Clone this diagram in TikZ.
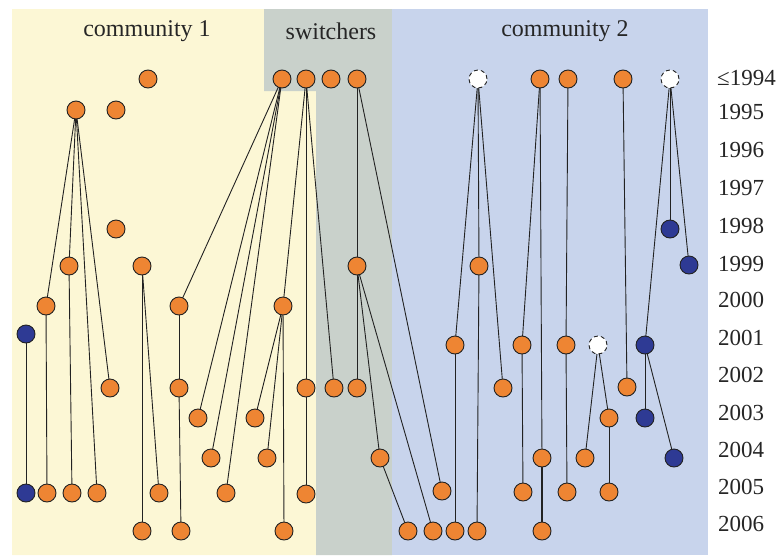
\documentclass[tikz,border=0pt]{standalone}
\usepackage{fontspec}
\setmainfont{Liberation Serif}
\definecolor{orng}{HTML}{EE8533}
\definecolor{dblue}{HTML}{2E3A94}
\definecolor{ybg}{HTML}{FCF7D5}
\definecolor{gbg}{HTML}{C9D1CB}
\definecolor{bbg}{HTML}{C8D4EC}
\definecolor{edge}{HTML}{222222}
\begin{document}
\begin{tikzpicture}[x=1pt,y=-1pt,
  nd/.style={circle,draw=edge,line width=0.9pt,minimum size=18pt,inner sep=0pt},
  orn/.style={nd,fill=orng},
  blu/.style={nd,fill=dblue},
  dsh/.style={nd,fill=white,dash pattern=on 4pt off 3.1pt},
  lnk/.style={draw=edge,line width=0.9pt},
  hdr/.style={font=\fontsize{24}{24}\selectfont,text=black!85},
  yr/.style={font=\fontsize{23}{23}\selectfont,anchor=west,text=black!85,inner sep=0pt}]
\useasboundingbox (0,0) rectangle (779,555);
% backgrounds
\fill[ybg] (12,9) -- (264,9) -- (264,91) -- (316,91) -- (316,555) -- (12,555) -- cycle;
\fill[gbg] (264,9) -- (392,9) -- (392,555) -- (316,555) -- (316,91) -- (264,91) -- cycle;
\fill[bbg] (392,9) rectangle (708,555);
\node[hdr] (h1) at (147,31) {community 1};
\node[hdr] (h2) at (331,31) {switchers};
\node[hdr] (h3) at (565,31) {community 2};
% year labels
\node[yr] (y94) at (717,78) {≤1994};
\node[yr] (y95) at (718,112) {1995};
\node[yr] (y96) at (718,150) {1996};
\node[yr] (y97) at (718,188) {1997};
\node[yr] (y98) at (718,226) {1998};
\node[yr] (y99) at (718,264) {1999};
\node[yr] (y00) at (718,300) {2000};
\node[yr] (y01) at (718,338) {2001};
\node[yr] (y02) at (718,375) {2002};
\node[yr] (y03) at (718,413) {2003};
\node[yr] (y04) at (718,450) {2004};
\node[yr] (y05) at (718,487) {2005};
\node[yr] (y06) at (718,524) {2006};
% coordinates of nodes
\foreach \n/\x/\y in {a0/148/79,a1/76/110,a2/116/110,a3/116/229,a4/69/266,a5/142/266,a6/46/306,a7/179/306,
  b1/26/334,a8/110/388,a9/179/388,b2/26/493,a10/47/493,a11/72/493,a12/97/493,a13/159/493,a14/142/531,a15/181/531,
  s1/282/79,s2/306/79,s3/331/79,s4/357/79,s5/283/306,t1/357/266,s6/198/418,s7/255/418,s8/211/458,s9/267/458,
  s10/226/493,s11/306/494,s12/284/531,s13/306/388,s14/334/388,t2/357/388,t3/380/458,
  d1/478/79,c1/540/79,c2/568/79,c3/623/79,d2/670/79,e1/670/229,c4/479/266,e2/689/265,
  c5/455/345,c6/522/345,c7/566/345,d3/598/345,e3/645/345,c8/503/388,c9/627/387,c10/609/418,e4/645/418,
  c11/542/458,c12/585/458,e5/674/458,c13/442/491,c14/523/492,c15/567/492,c16/609/492,
  c17/408/531,c18/433/531,c19/455/531,c20/477/531,c21/542/531}
  {\coordinate (p\n) at (\x,\y);}
% edges
\foreach \u/\v in {a1/a6,a1/a4,a1/a12,a1/a8,a4/a11,a6/a10,b1/b2,a5/a14,a5/a13,a7/a9,a9/a15,
  s1/a7,s1/s6,s1/s8,s1/s10,s2/s5,s2/s13,s2/s14,s5/s7,s5/s9,s5/s12,s13/s11,s4/t1,s4/c13,
  t1/t2,t1/t3,t1/c18,t3/c17,d1/c5,d1/c4,d1/c8,c4/c20,c5/c19,c1/c6,c1/c11,c6/c14,c2/c7,c7/c15,
  d3/c12,d3/c10,c10/c16,c3/c9,d2/e3,d2/e1,d2/e2,e3/e4,e3/e5}
  {\draw[lnk] (p\u) -- (p\v);}
\draw[lnk,line width=1.5pt] (pc11) -- (pc21);
% nodes
\foreach \n in {a0,a1,a2,a3,a4,a5,a6,a7,a8,a9,a10,a11,a12,a13,a14,a15,
  s1,s2,s3,s4,s5,s6,s7,s8,s9,s10,s11,s12,s13,s14,t1,t2,t3,
  c1,c2,c3,c4,c5,c6,c7,c8,c9,c10,c11,c12,c13,c14,c15,c16,c17,c18,c19,c20,c21}
  {\node[orn] (\n) at (p\n) {};}
\foreach \n in {b1,b2,e1,e2,e3,e4,e5}
  {\node[blu] (\n) at (p\n) {};}
\foreach \n in {d1,d2,d3}
  {\node[dsh] (\n) at (p\n) {};}
\end{tikzpicture}
\end{document}
